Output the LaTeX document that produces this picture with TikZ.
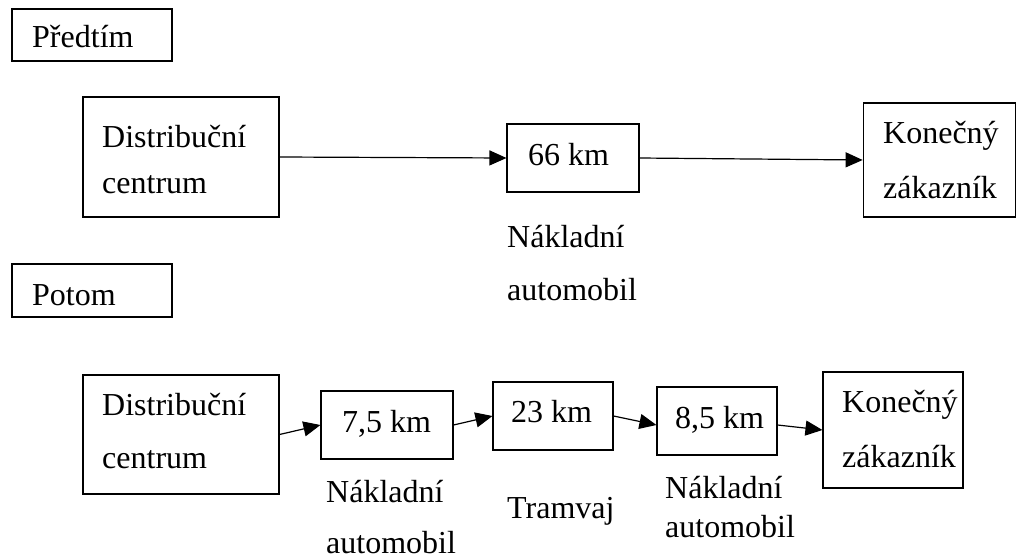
\documentclass[tikz,border=0pt]{standalone}
\usepackage{fontspec}
\setmainfont{Liberation Serif}
\usetikzlibrary{arrows.meta}
\begin{document}
\begin{tikzpicture}[x=1pt,y=-1pt,
  box/.style={draw, line width=1.1pt, inner sep=0pt, rectangle},
  txt/.style={inner sep=0pt, anchor=base west, font=\fontsize{32}{38}\selectfont},
  conn/.style={line width=1.2pt, -{Triangle[length=17pt,width=15pt]}}]
\useasboundingbox (0,0) rectangle (1017,559);
% boxes
\node[box, minimum width=160pt, minimum height=52pt] (pred) at (92,35) {};
\node[box, minimum width=196pt, minimum height=120pt] (dc1) at (181,157) {};
\node[box, minimum width=132pt, minimum height=68pt] (km66) at (573,158) {};
\node[box, minimum width=152pt, minimum height=114pt] (kz1) at (939.2,160) {};
\node[box, minimum width=160pt, minimum height=53pt] (potom) at (92,290.5) {};
\node[box, minimum width=196pt, minimum height=119pt] (dc2) at (181,434.5) {};
\node[box, minimum width=132pt, minimum height=68pt] (km75) at (387,425) {};
\node[box, minimum width=120pt, minimum height=68pt] (km23) at (553,416) {};
\node[box, minimum width=120pt, minimum height=68pt] (km85) at (717,421) {};
\node[box, minimum width=140pt, minimum height=116pt] (kz2) at (893,430) {};
% texts
\node[txt] (tpred) at (32,48) {Předtím};
\node[txt] (tdc1a) at (102,147) {Distribuční};
\node[txt] (tdc1b) at (102,193) {centrum};
\node[txt] (tkm66) at (528,165) {66 km};
\node[txt] (tkz1a) at (883,143) {Konečný};
\node[txt] (tkz1b) at (883,198) {zákazník};
\node[txt] (tn1a) at (507,247) {Nákladní};
\node[txt] (tn1b) at (507,300) {automobil};
\node[txt] (tpot) at (32,305) {Potom};
\node[txt] (tdc2a) at (102,415) {Distribuční};
\node[txt] (tdc2b) at (102,468) {centrum};
\node[txt] (tkm75) at (342,432) {7,5 km};
\node[txt] (tkm23) at (511,422) {23 km};
\node[txt] (tkm85) at (675,428) {8,5 km};
\node[txt] (tkz2a) at (842,412) {Konečný};
\node[txt] (tkz2b) at (842,467) {zákazník};
\node[txt] (tn2a) at (326,502) {Nákladní};
\node[txt] (tn2b) at (326,553) {automobil};
\node[txt] (ttram) at (507,518) {Tramvaj};
\node[txt] (tn3a) at (665,498) {Nákladní};
\node[txt] (tn3b) at (665,537) {automobil};
% connectors
\draw[conn] (dc1.east) -- (km66.west);
\draw[conn] (km66.east) -- (kz1.west);
\draw[conn] (dc2.east) -- (km75.west);
\draw[conn] (km75.east) -- (km23.west);
\draw[conn] (km23.east) -- ([yshift=-4pt]km85.west);
\draw[conn] ([yshift=-4pt]km85.east) -- (kz2.west);
\end{tikzpicture}
\end{document}
